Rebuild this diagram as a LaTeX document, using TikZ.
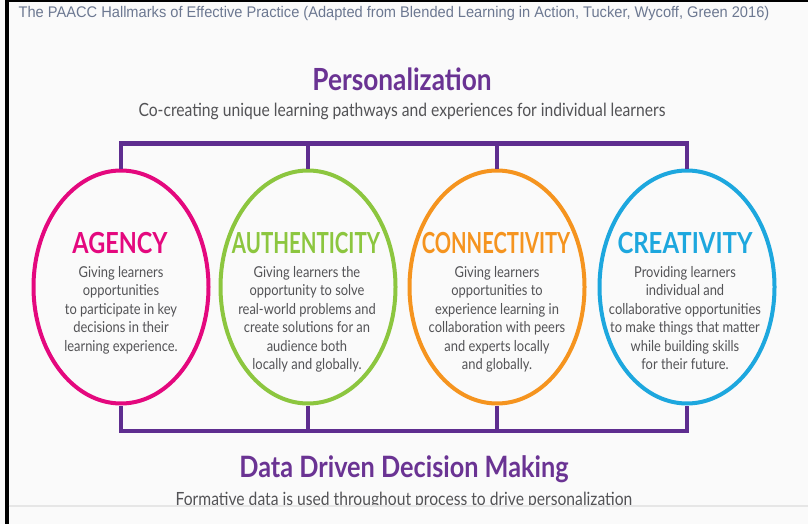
\documentclass[tikz,border=0pt]{standalone}
\usepackage{fontspec}
\setmainfont{Lato}
\newfontfamily\capfont[FakeStretch=0.95]{Liberation Sans}
\newfontfamily\narrowfont[FakeStretch=0.86]{Lato}
\usepackage{tikz}
\usetikzlibrary{shapes.geometric,positioning,calc}
\definecolor{bgpaper}{HTML}{FAFAFA}
\definecolor{hallpurple}{HTML}{5E2D8F}
\definecolor{titlepurple}{HTML}{6A3393}
\definecolor{agencypink}{HTML}{E4087E}
\definecolor{authgreen}{HTML}{8CC63F}
\definecolor{connorange}{HTML}{F5941F}
\definecolor{creablue}{HTML}{1DA7DE}
\definecolor{bodygray}{HTML}{535356}
\definecolor{capgray}{HTML}{6C7891}
\definecolor{rulegray}{HTML}{E6E6E6}
\tikzstyle{hallmark}=[ellipse, line width=4pt, minimum width=175pt, minimum height=233pt, inner sep=0pt]
\tikzstyle{heading}=[anchor=base, inner sep=0pt, font=\narrowfont\fontsize{29}{29}\selectfont\bfseries]
\tikzstyle{blurb}=[anchor=north, align=center, inner sep=0pt, text=bodygray, font=\narrowfont\fontsize{15}{18.5}\selectfont]
\tikzstyle{bar}=[hallpurple, line width=4.5pt]
\tikzstyle{bigtitle}=[anchor=base, inner sep=0pt, text=titlepurple, font=\narrowfont\fontsize{30.5}{30.5}\selectfont\bfseries]
\tikzstyle{subtitle}=[anchor=base, inner sep=0pt, text=bodygray, font=\narrowfont\fontsize{18.2}{18.2}\selectfont]

\begin{document}
\begin{tikzpicture}[x=1pt,y=-1pt]
				\fill[bgpaper](0,0) rectangle (808,524);
				\useasboundingbox (0,0) rectangle (808,524);
				\fill[black](5,0) rectangle (8.5,524);
				\fill[black](5,0) rectangle (808,2.5);
				
				\node[anchor=base, inner sep=0pt, text=capgray, font=\capfont\fontsize{15.4}{15.4}\selectfont] (cap)at(394,18){The PAACC Hallmarks of Effective Practice (Adapted from Blended Learning in Action, Tucker, Wycoff, Green 2016)};
				\node[bigtitle] (pers)at(402,91){Personalization};
				\node[subtitle] (perssub)at(402,117){Co-creating unique learning pathways and experiences for individual learners};
				
				\node[hallmark, draw=agencypink] (agency)at(121,287){};
				\node[hallmark, draw=authgreen] (authenticity)at(308,287){};
				\node[hallmark, draw=connorange] (connectivity)at(497,287){};
				\node[hallmark, draw=creablue] (creativity)at(687,287){};
				
				\node[heading, text=agencypink] (agencyhead)at(120,253){\scalebox{0.94}[1]{AGENCY}};
				\node[heading, text=authgreen] (authhead)at(306,253){\scalebox{0.82}[1]{AUTHENTICITY}};
				\node[heading, text=connorange] (connhead)at(496,253){\scalebox{0.81}[1]{CONNECTIVITY}};
				\node[heading, text=creablue] (creahead)at(685,253){\scalebox{0.96}[1]{CREATIVITY}};
				
				\node[blurb] (agencytext)at(121,266){Giving learners\\opportunities\\to participate in key\\decisions in their\\learning experience.};
				\node[blurb] (authtext)at(307,266){Giving learners the\\opportunity to solve\\real-world problems and\\create solutions for an\\audience both\\locally and globally.};
				\node[blurb] (conntext)at(497,266){Giving learners\\opportunities to\\experience learning in\\collaboration with peers\\and experts locally\\and globally.};
				\node[blurb] (creatext)at(685,266){Providing learners\\individual and\\collaborative opportunities\\to make things that matter\\while building skills\\for their future.};
				
				\coordinate (topbar)at(687,143.5);
				\coordinate (botbar)at(687,431);
				\draw[bar](agency.north) |- (topbar) -- (creativity.north);
				\draw[bar](authenticity.north) -- (authenticity.north |- topbar);
				\draw[bar](connectivity.north) -- (connectivity.north |- topbar);
				\draw[bar](agency.south) |- (botbar) -- (creativity.south);
				\draw[bar](authenticity.south) -- (authenticity.south |- botbar);
				\draw[bar](connectivity.south) -- (connectivity.south |- botbar);
				
				\node[bigtitle, font=\narrowfont\fontsize{29.4}{29.4}\selectfont\bfseries] (data)at(404,477){Data Driven Decision Making};
				\node[subtitle] (datasub)at(404,505){Formative data is used throughout process to drive personalization};
				
				\fill[bgpaper](8.5,506) rectangle (808,524);
				\draw[rulegray, line width=1.5pt](8.5,506) -- (808,506);
			\end{tikzpicture}
\end{document}
